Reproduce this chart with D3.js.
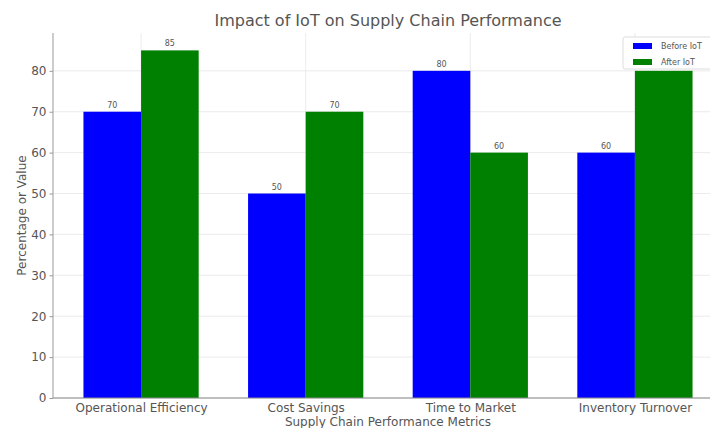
<!DOCTYPE html>
<html>
<head>
<meta charset="utf-8">
<script src="https://cdn.jsdelivr.net/npm/d3@7"></script>
<style>
  html, body { margin: 0; padding: 0; background: #fff; overflow: hidden; }
  svg { display: block; font-family: "DejaVu Sans", sans-serif; }
</style>
</head>
<body>
<svg id="chart" width="710" height="428"></svg>
<script>
(function () {
  'use strict';

  /* ---- data ---- */
  var categories = ['Operational Efficiency', 'Cost Savings', 'Time to Market', 'Inventory Turnover'];
  var beforeIoT = [70, 50, 80, 60];
  var afterIoT = [85, 70, 60, 80];
  var seriesNames = ['Before IoT', 'After IoT'];
  var yTicks = [0, 10, 20, 30, 40, 50, 60, 70, 80];

  var colors = ['#0000ff', '#008000'];
  var barW = 0.35;

  var plot = { left: 53, top: 33, width: 670, bottom: 398 };
  var legendBox = { x: 623, y: 37, w: 100, h: 32 };

  var svg = d3.select('#chart');

  // matplotlib-like auto limits: bars span [-0.175, n-1+0.525], 5% margins
  var lo = -barW / 2, hi = categories.length - 1 + barW * 1.5;
  var pad = (hi - lo) * 0.05;
  var x = d3.scaleLinear().domain([lo - pad, hi + pad]).range([plot.left, plot.left + plot.width]);
  var yMax = d3.max(beforeIoT.concat(afterIoT)) * 1.05;
  var y = d3.scaleLinear().domain([0, yMax]).range([plot.bottom, plot.top]);

  var g = svg.append('g');

  // grid
  g.selectAll('.hgrid').data(yTicks).enter().append('line')
    .attr('x1', plot.left).attr('x2', plot.left + plot.width)
    .attr('y1', function (d) { return y(d); }).attr('y2', function (d) { return y(d); })
    .attr('stroke', '#e6e6e6').attr('stroke-width', 0.8);
  g.selectAll('.vgrid').data(categories).enter().append('line')
    .attr('x1', function (d, i) { return x(i + barW / 2); })
    .attr('x2', function (d, i) { return x(i + barW / 2); })
    .attr('y1', plot.top).attr('y2', plot.bottom)
    .attr('stroke', '#e6e6e6').attr('stroke-width', 0.8);

  // a value label hidden behind the legend is simply not drawn
  function underLegend(px, py) {
    return px > legendBox.x - 8 && px < legendBox.x + legendBox.w &&
           py > legendBox.y && py < legendBox.y + legendBox.h + 8;
  }

  // bars + value labels
  [beforeIoT, afterIoT].forEach(function (vals, s) {
    g.selectAll('.bar' + s).data(vals).enter().append('rect')
      .attr('x', function (d, i) { return x(i + s * barW - barW / 2); })
      .attr('width', x(barW) - x(0))
      .attr('y', function (d) { return y(d); })
      .attr('height', function (d) { return y(0) - y(d); })
      .attr('fill', colors[s]);
    var labels = vals.map(function (d, i) { return { v: d, px: x(i + s * barW), py: y(d) - 4 }; })
      .filter(function (l) { return !underLegend(l.px, l.py); });
    g.selectAll('.lab' + s).data(labels).enter().append('text')
      .attr('x', function (l) { return l.px; })
      .attr('y', function (l) { return l.py; })
      .attr('text-anchor', 'middle')
      .attr('font-size', 8).attr('fill', '#555')
      .text(function (l) { return l.v; });
  });

  // y axis
  var yAxis = d3.axisLeft(y).tickValues(yTicks).tickSize(3.5).tickPadding(3);
  var ya = g.append('g').attr('transform', 'translate(' + plot.left + ',0)').call(yAxis);
  ya.select('.domain').attr('stroke', '#bbb').attr('stroke-width', 1.5)
    .attr('d', 'M0,' + plot.top + 'V' + plot.bottom);
  ya.selectAll('.tick line').attr('stroke', '#999');
  ya.selectAll('.tick text').attr('font-size', 12).attr('fill', '#555')
    .attr('font-family', '"DejaVu Sans", sans-serif');

  // x axis
  var xAxis = d3.axisBottom(x)
    .tickValues(categories.map(function (d, i) { return i + barW / 2; }))
    .tickFormat(function (d, i) { return categories[i]; })
    .tickSize(0).tickPadding(5);
  var xa = g.append('g').attr('transform', 'translate(0,' + plot.bottom + ')').call(xAxis);
  xa.select('.domain').attr('stroke', '#888').attr('d', 'M' + plot.left + ',0H' + (plot.left + plot.width));
  xa.selectAll('.tick text').attr('font-size', 12).attr('fill', '#555')
    .attr('font-family', '"DejaVu Sans", sans-serif');

  // titles
  var cx = plot.left + plot.width / 2;
  svg.append('text').attr('x', cx).attr('y', 26).attr('text-anchor', 'middle')
    .attr('font-size', 16).attr('fill', '#555')
    .text('Impact of IoT on Supply Chain Performance');
  svg.append('text').attr('x', cx).attr('y', 426).attr('text-anchor', 'middle')
    .attr('font-size', 12).attr('fill', '#555')
    .text('Supply Chain Performance Metrics');
  svg.append('text').attr('transform', 'translate(26,' + ((plot.top + plot.bottom) / 2) + ') rotate(-90)')
    .attr('text-anchor', 'middle').attr('font-size', 12).attr('fill', '#555')
    .text('Percentage or Value');

  // legend
  var lg = svg.append('g').attr('transform', 'translate(' + legendBox.x + ',' + legendBox.y + ')');
  lg.append('rect').attr('width', legendBox.w).attr('height', legendBox.h).attr('rx', 2)
    .attr('fill', '#fff').attr('stroke', '#ddd');
  seriesNames.forEach(function (name, i) {
    lg.append('rect').attr('x', 10).attr('y', 6 + i * 16).attr('width', 19).attr('height', 6)
      .attr('fill', colors[i]);
    lg.append('text').attr('x', 38).attr('y', 12 + i * 16)
      .attr('font-size', 8).attr('fill', '#555').text(name);
  });
})();
</script>
</body>
</html>
